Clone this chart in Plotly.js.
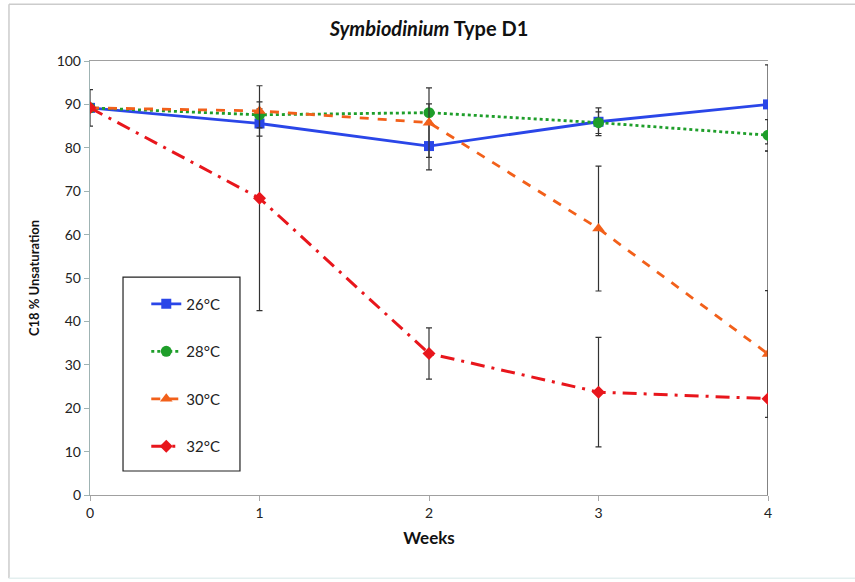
<!DOCTYPE html>
<html>
<head>
<meta charset="utf-8">
<script src="https://cdn.plot.ly/plotly-3.0.1.min.js"></script>
<style>html,body{margin:0;padding:0;background:#fff;}#chart{width:855px;height:582px;}</style>
</head>
<body>
<div id="chart"></div>
<script>
const weeks = [0, 1, 2, 3, 4];
const seriesNames = ["26°C", "28°C", "30°C", "32°C"];
const t26 = [89.2, 85.6, 80.4, 86.0, 90.0];
const t28 = [89.2, 87.6, 88.1, 85.8, 82.9];
const t30 = [89.2, 88.5, 85.8, 61.4, 32.5];
const t32 = [89.2, 68.4, 32.6, 23.7, 22.2];
const err26 = [4.2, 2.9, 5.5, 3.2, 9.1];
const err28 = [0, 3.0, 2.0, 2.5, 3.6];
const err30 = [0, 0.5, 8.0, 14.4, 14.6];
const err32 = [0, 25.9, 5.9, 12.6, 57.0];
const yTicks = [0, 10, 20, 30, 40, 50, 60, 70, 80, 90, 100];

const font = "Lato, 'Open Sans', sans-serif";
function errCfg(arr) {
  return {type: "data", array: arr, visible: true, color: "#333333", thickness: 1.2, width: 3};
}
const data = [
  {x: weeks, y: t26, name: seriesNames[0], legendgroup: "a", mode: "lines+markers", type: "scatter",
   line: {color: "#2a46e8", width: 2.8}, marker: {symbol: "square", size: 10, color: "#2a46e8"},
   error_y: errCfg(err26)},
  {x: weeks, y: t28, name: seriesNames[1], legendgroup: "b", mode: "lines+markers", type: "scatter",
   line: {color: "#1e9e2a", width: 2.8, dash: "dot"}, marker: {symbol: "circle", size: 11, color: "#1e9e2a"},
   error_y: errCfg(err28)},
  {x: weeks, y: t30, name: seriesNames[2], legendgroup: "c", mode: "lines+markers", type: "scatter",
   line: {color: "#f2601a", width: 2.8, dash: "dash"}, marker: {symbol: "triangle-up", size: 11, color: "#f2601a"},
   error_y: errCfg(err30)},
  {x: weeks, y: t32, name: seriesNames[3], legendgroup: "d", mode: "lines+markers", type: "scatter",
   line: {color: "#e8161c", width: 3, dash: "14px,7px,3px,7px"}, marker: {symbol: "diamond", size: 10, color: "#e8161c"},
   error_y: errCfg(err32)}
];

const layout = {
  width: 855, height: 582,
  margin: {l: 90, r: 87, t: 61, b: 87},
  paper_bgcolor: "#ffffff", plot_bgcolor: "#ffffff",
  font: {family: font, size: 14, color: "#222"},
  title: {text: "<b><i>Symbiodinium</i> Type D1</b>", x: 0.5, xref: "paper", y: 0.962, yref: "container",
          font: {family: font, size: 20, color: "#111"}},
  xaxis: {range: [0, 4], tickvals: weeks, showgrid: false, zeroline: false,
          showline: true, linecolor: "#a0a0a0", linewidth: 1.2, mirror: true,
          ticks: "outside", ticklen: 5, tickcolor: "#a8a8a8",
          tickfont: {family: font, size: 14, color: "#222"},
          title: {text: "<b>Weeks</b>", font: {family: font, size: 17, color: "#111"}, standoff: 12}},
  yaxis: {range: [0, 100], tickvals: yTicks, showgrid: false, zeroline: false,
          showline: true, linecolor: "#9fb3b3", linewidth: 1.2,
          ticks: "outside", ticklen: 5, tickcolor: "#9fb3b3",
          tickfont: {family: font, size: 14, color: "#222"},
          title: {text: "<b>C18 % Unsaturation</b>", font: {family: font, size: 13, color: "#111"}, standoff: 14}},
  showlegend: true,
  legend: {x: 0.083, xanchor: "left", y: 0.478, yanchor: "top", bgcolor: "rgba(0,0,0,0)",
           borderwidth: 0, tracegroupgap: 25, font: {family: font, size: 15, color: "#222"}},
  shapes: [
    {type: "rect", xref: "paper", yref: "paper", x0: 0.0487, x1: 0.2212, y0: 0.0553, y1: 0.502,
     line: {color: "#222", width: 1.2}, fillcolor: "rgba(0,0,0,0)", layer: "above"},
    {type: "line", xref: "paper", yref: "paper", x0: -0.1195, x1: -0.1195, y0: -0.192, y1: 1.131,
     line: {color: "#cccccc", width: 1.5}, layer: "below"},
    {type: "line", xref: "paper", yref: "paper", x0: -0.1195, x1: 1.2, y0: 1.131, y1: 1.131,
     line: {color: "#cccccc", width: 1.5}, layer: "below"},
    {type: "line", xref: "paper", yref: "paper", x0: -0.1195, x1: 1.2, y0: -0.192, y1: -0.192,
     line: {color: "#e4efef", width: 1.5}, layer: "below"}
  ]
};
Plotly.newPlot("chart", data, layout, {displayModeBar: false, staticPlot: true});
</script>
</body>
</html>
